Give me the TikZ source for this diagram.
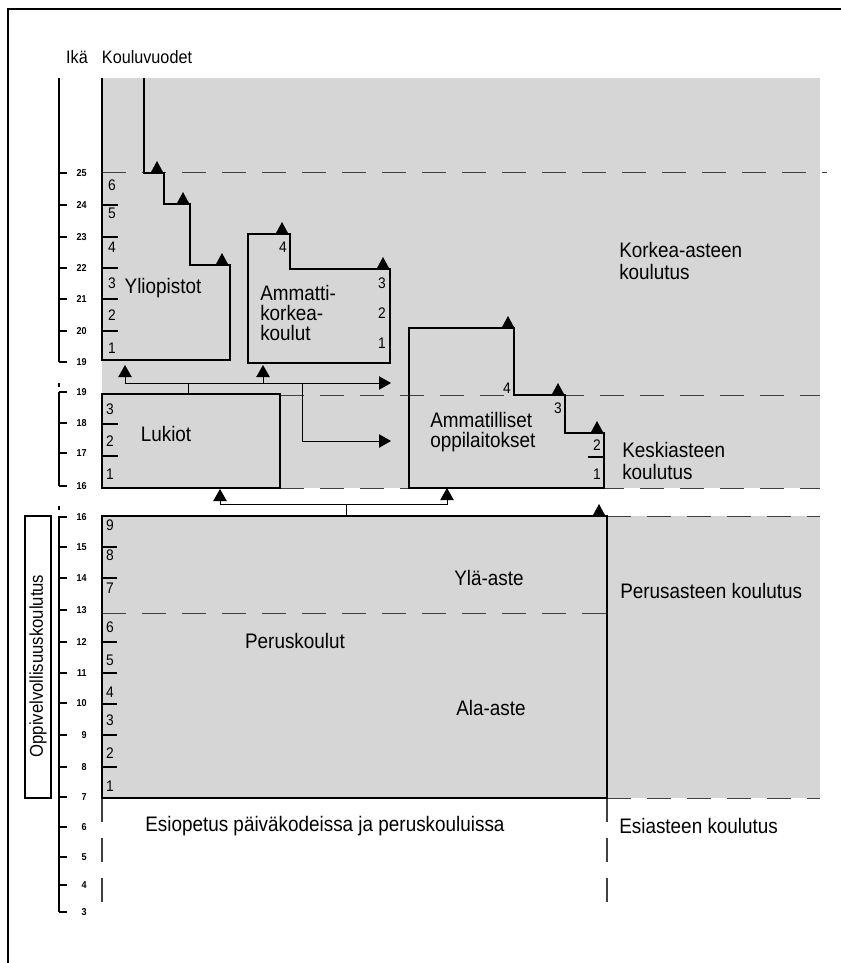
\documentclass[tikz,border=0pt]{standalone}
\usepackage{fontspec}
\setmainfont[FakeStretch=0.9]{Liberation Sans}
\usetikzlibrary{arrows.meta}

% filled step marker, base centre at (#1,#2)
\newcommand\steptri[2]{\fill[shift={(#1,#2)}] (-6.5,0) -- (0,-12) -- (6.5,0) -- cycle;}

\begin{document}
\begin{tikzpicture}[x=0.75pt,y=0.75pt,yscale=-1,xscale=1,
  lbl/.style={font=\fontsize{15.75}{15}\selectfont, inner sep=0pt},
  yr/.style={font=\fontsize{11.5}{12}\selectfont, inner sep=0pt},
  age/.style={font=\bfseries\fontsize{7.5}{9}\selectfont, inner sep=0pt, anchor=east},
  edge/.style={line width=1.8pt, line join=miter},
  axis/.style={line width=0.8pt},
  conn/.style={line width=0.75pt, -{Triangle[length=9pt,width=10pt]}},
  lvl/.style={line width=0.75pt, black!75, dash pattern=on 18pt off 12pt},
  shade/.style={fill=black!16}]
\useasboundingbox (0,0) rectangle (841,963);

%Frame
\draw[line width=1.5pt] (8,963) -- (8,9) -- (841,9);

%Shaded areas
\fill[shade] (102,78) rectangle (820,488);
\fill[shade] (102,516) rectangle (820,798);

%Level lines
\draw[lvl] (102,173) -- (827,173);
\draw[lvl] (280,395) -- (820,395);
\draw[lvl] (280,488) -- (820,488);
\draw[lvl] (607,516) -- (820,516);
\draw[lvl] (102,613) -- (607,613);
\draw[lvl] (607,798) -- (820,798);
\draw[lvl, line width=0.9pt] (102,798) -- (102,912);
\draw[lvl, line width=0.9pt] (607,798) -- (607,912);

% Header
\node[font=\fontsize{13.5}{15}\selectfont, inner sep=0pt] (ika) at (77,57) {Ikä};
\node[font=\fontsize{13.5}{15}\selectfont, inner sep=0pt] (vuodet) at (147,57) {Kouluvuodet};

%Age axis
\draw[axis] (59,78) -- (59,362);
\foreach \a/\y in {25/173,24/205,23/237,22/268,21/299,20/331,19/362} {
  \draw[axis] (59,\y) -- (67,\y);
  \node[age] (ageU\a) at (87,\y) {\a};
}
\draw[axis] (59,383) -- (59,387);
\draw[axis] (59,392) -- (59,486);
\foreach \a/\y in {19/392,18/423,17/453,16/486} {
  \draw[axis] (59,\y) -- (67,\y);
  \node[age] (ageM\a) at (87,\y) {\a};
}
\draw[axis] (59,506) -- (59,510);
\draw[axis] (59,516) -- (59,912);
\foreach \a/\y in {16/517,15/547,14/578,13/610,12/642,11/673,10/703,9/735,8/767,7/797,6/827,5/857,4/885,3/912} {
  \draw[axis] (59,\y) -- (67,\y);
  \node[age] (ageL\a) at (87,\y) {\a};
}

%Oppivelvollisuus
\draw[line width=1pt] (25,516) rectangle (51,798);
\node[font=\fontsize{13.9}{15}\selectfont, inner sep=0pt, rotate=90] (oppi) at (38,666) {Oppivelvollisuuskoulutus};

%Shape: Yliopistot
\draw[edge] (102,78) -- (102,360) -- (230,360) -- (230,265) -- (190,265) -- (190,204) -- (164,204) -- (164,173) -- (144,173) -- (144,78);
\foreach \y in {205,237,268,299,331} \draw[axis] (102,\y) -- (118,\y);
\foreach \n/\y in {6/185,5/213,4/247,3/283,2/315,1/348} \node[yr] (yli\n) at (112,\y) {\n};
\node[lbl] (yli) at (163,288) {Yliopistot};
\steptri{157}{173}
\steptri{183}{204}
\steptri{222}{265}

%Shape: Ammattikorkeakoulut
\draw[edge] (248,234) -- (290,234) -- (290,269) -- (390,269) -- (390,363) -- (248,363) -- cycle;
\node[yr] (amk4) at (283,247) {4};
\foreach \n/\y in {3/283,2/313,1/343} \node[yr] (amk\n) at (382,\y) {\n};
\node[lbl, align=left, anchor=west] (amk) at (260,313) {Ammatti-\\korkea-\\koulut};
\steptri{282}{234}
\steptri{383}{269}

%Shape: Lukiot
\draw[edge] (102,394) rectangle (280,488);
\foreach \y in {424,456} \draw[axis] (102,\y) -- (118,\y);
\foreach \n/\y in {3/409,2/441,1/474} \node[yr] (luk\n) at (110,\y) {\n};
\node[lbl] (luk) at (166,434) {Lukiot};

%Shape: Ammatilliset oppilaitokset
\draw[edge] (409,328) -- (514,328) -- (514,395) -- (565,395) -- (565,433) -- (604,433) -- (604,488) -- (409,488) -- cycle;
\draw[axis] (588,457) -- (604,457);
\node[yr] (amm4) at (507,388) {4};
\node[yr] (amm3) at (558,408) {3};
\node[yr] (amm2) at (597,445) {2};
\node[yr] (amm1) at (597,474) {1};
\node[lbl, align=left, anchor=west] (amm) at (430,432) {Ammatilliset\\oppilaitokset};
\steptri{508}{328}
\steptri{558}{395}
\steptri{597}{433}

%Shape: Peruskoulut
\draw[edge] (102,516) rectangle (607,798);
\foreach \y in {547,578,642,673,704,735,767} \draw[axis] (102,\y) -- (117,\y);
\foreach \n/\y in {9/525,8/555,7/588,6/627,5/660,4/692,3/720,2/753,1/786} \node[yr] (per\n) at (110,\y) {\n};
\node[lbl] (per) at (295,641) {Peruskoulut};
\node[lbl] (yla) at (489,578) {Ylä-aste};
\node[lbl] (ala) at (491,708) {Ala-aste};
\steptri{599}{516}

%Connectors from Lukiot
\coordinate (lukTop) at (188,394);
\coordinate (jUp) at (188,383);
\coordinate (yliIn) at (125,365);
\coordinate (amkIn) at (263,365);
\coordinate (ammIn) at (391,383);
\coordinate (split) at (302,383);
\coordinate (ammIn2) at (391,441);
\draw[line width=0.75pt] (lukTop) -- (jUp);
\draw[conn] (jUp) -| (yliIn);
\draw[conn] (jUp) -| (amkIn);
\draw[conn] (jUp) -- (ammIn);
\draw[conn] (split) |- (ammIn2);

%Connectors from Peruskoulut
\coordinate (perTop) at (346,516);
\coordinate (jLow) at (346,504);
\coordinate (lukIn) at (220,489);
\coordinate (ammIn3) at (447,488);
\draw[line width=0.75pt] (perTop) -- (jLow);
\draw[conn] (jLow) -| (lukIn);
\draw[conn] (jLow) -| (ammIn3);

% Text Node
\node[lbl, align=left, anchor=west, font=\fontsize{15.75}{16}\selectfont] (korkea) at (619,261) {Korkea-asteen\\koulutus};
% Text Node
\node[lbl, align=left, anchor=west, font=\fontsize{15.75}{16}\selectfont] (keski) at (622,461) {Keskiasteen\\koulutus};
% Text Node
\node[lbl, anchor=west] (perus) at (620,591) {Perusasteen koulutus};
% Text Node
\node[lbl, anchor=west] (esiop) at (145,826) {Esiopetus päiväkodeissa ja peruskouluissa};
% Text Node
\node[lbl, anchor=west] (esias) at (619,826) {Esiasteen koulutus};

\end{tikzpicture}
\end{document}
